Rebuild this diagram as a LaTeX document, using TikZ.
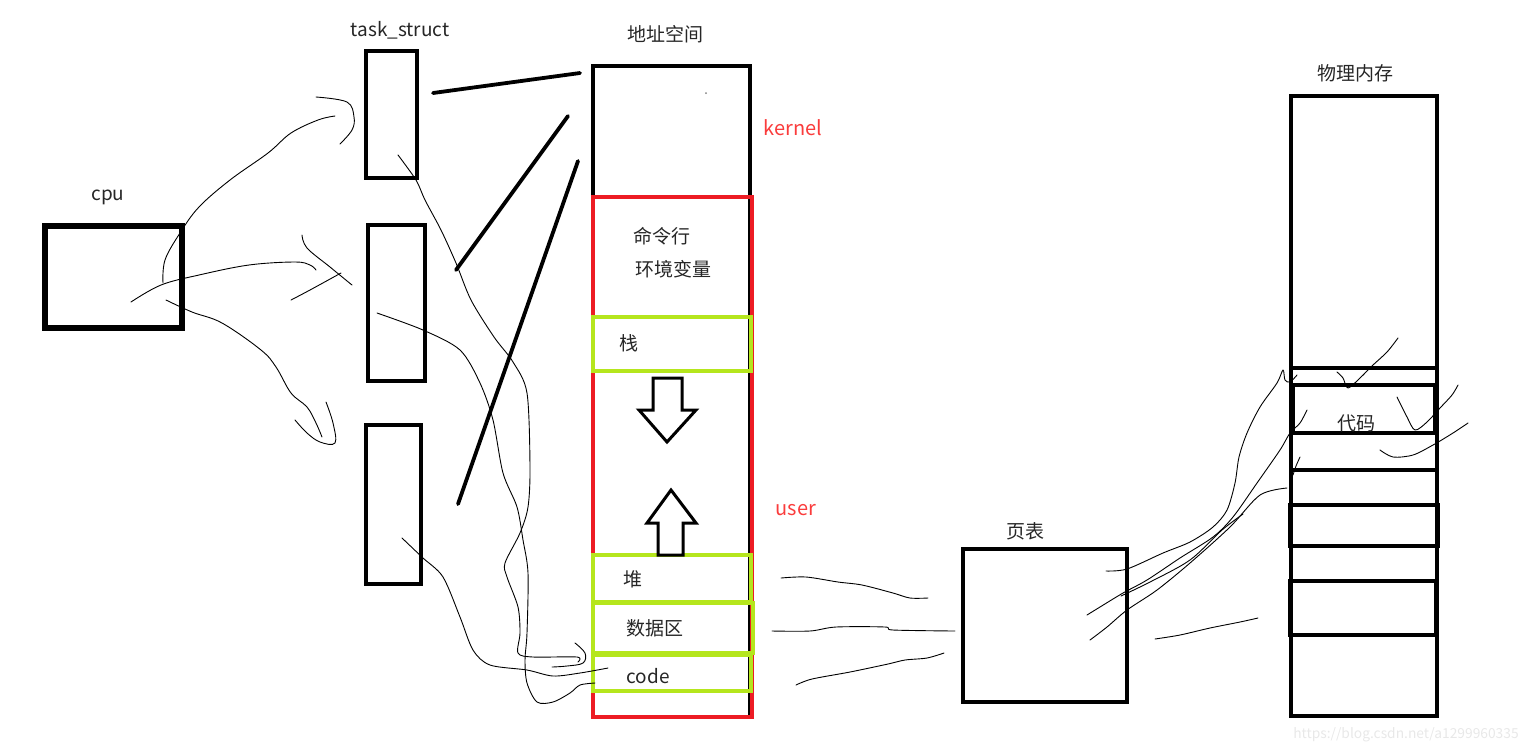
\documentclass[tikz,border=0pt]{standalone}
\usepackage{fontspec}
\setmainfont{Noto Sans CJK SC}
\usetikzlibrary{fit}
\definecolor{pred}{RGB}{237,28,36}
\definecolor{plime}{RGB}{181,230,29}
\definecolor{ptext}{RGB}{250,60,60}
\definecolor{wm}{RGB}{232,232,232}
\begin{document}
\begin{tikzpicture}[x=0.5pt,y=-0.5pt,
  box/.style={draw, line width=1.8pt, inner sep=0pt},
  redbox/.style={draw=pred, line width=1.6pt, inner sep=0pt},
  greenbox/.style={draw=plime, line width=1.9pt, inner sep=0pt},
  lbl/.style={font=\fontsize{9.5}{11}\selectfont, inner sep=0pt, text=black!85},
  redlbl/.style={font=\fontsize{10}{12}\selectfont, inner sep=0pt, text=ptext},
  stroke/.style={line width=0.45pt, line cap=round, line join=round},
  bar/.style={line width=1.9pt, line cap=round},
  blockarrow/.style={draw, line width=1.5pt, line join=miter, fill=white}]
\useasboundingbox (0,0) rectangle (1536,752);

% ---------- boxes ----------
\node[box, line width=2.8pt, fit={(45,226) (182,328)}] (cpu) {};
\node[box, fit={(366,51) (417,178)}] (t1) {};
\node[box, fit={(368,225) (425,381)}] (t2) {};
\node[box, fit={(366,425) (421,584)}] (t3) {};
\node[box, line width=1.6pt, fit={(593,66) (750,717)}] (as) {};
\node[redbox, fit={(593,197) (752,717)}] (user) {};
\node[greenbox, fit={(593,317) (751,371)}] (stack) {};
\node[greenbox, fit={(593,555) (751,602)}] (heap) {};
\node[greenbox, fit={(593,603) (753,653)}] (data) {};
\node[greenbox, fit={(593,655) (751,691)}] (code) {};
\node[box, fit={(963,549) (1127,702)}] (pt) {};
\node[box, fit={(1291,96) (1437,716)}] (pm) {};
\node[box, fit={(1293,385) (1435,433)}] (pm1) {};
\node[box, line width=2.2pt, fit={(1290,505) (1438,546)}] (pm2) {};
\node[box, fit={(1290,581) (1436,635)}] (pm3) {};
\coordinate (pmA) at (1291,368); \coordinate (pmB) at (1437,368);
\coordinate (pmC) at (1291,470); \coordinate (pmD) at (1437,470);
\draw[line width=1.8pt] (pmA) -- (pmB);
\draw[line width=1.8pt] (pmC) -- (pmD);

% ---------- labels ----------
\node[lbl] (lcpu) at (108,197) {cpu};
\node[lbl] (lts) at (400,30) {task\_struct};
\node[lbl] (las) at (665,34) {地址空间};
\node[redlbl] (lk) at (793,128) {kernel};
\node[redlbl] (lu) at (796,510) {user};
\node[lbl] (cmd) at (662,236) {命令行};
\node[lbl] (env) at (673,269) {环境变量};
\node[lbl] (lstack) at (629,343) {栈};
\node[lbl] (lheap) at (633,579) {堆};
\node[lbl] (ldata) at (655,628) {数据区};
\node[lbl] (lcode) at (648,676) {code};
\node[lbl] (lpt) at (1025,531) {页表};
\node[lbl] (lpm) at (1355,73) {物理内存};
\node[lbl] (lcodepm) at (1356,423) {代码};
\node[inner sep=0pt, font=\fontsize{6.9}{8}\selectfont, text=wm] (wmark) at (1406,735) {https://blog.csdn.net/a1299960335};
\fill[black!50] (706,93) circle (1);

% ---------- block arrows ----------
\draw[blockarrow] (653,378) -- (682,378) -- (682,410) -- (696,410) -- (667,442) -- (639,410) -- (653,410) -- cycle;
\draw[blockarrow] (671,490) -- (696,523) -- (683,523) -- (683,555) -- (658,555) -- (658,523) -- (647,523) -- cycle;

% ---------- thick lines task_struct -> address space ----------
\coordinate (b1s) at (433,93); \coordinate (b1e) at (580,73);
\coordinate (b2s) at (456,270); \coordinate (b2e) at (568,116);
\coordinate (b3s) at (458,504); \coordinate (b3e) at (578,161);
\draw[bar] (b1s) -- (b1e);
\draw[bar] (b2s) -- (b2e);
\draw[bar] (b3s) -- (b3e);

% ---------- hand-drawn strokes ----------
% cpu -> task 1
\draw[stroke] plot[smooth, tension=0.6] coordinates {(163,283) (165,260) (180,233) (199,207) (230,180) (268,153) (291,133) (318,120) (335,116)};
\draw[stroke] plot[smooth, tension=0.6] coordinates {(316,97) (347,102) (354,117) (352,130) (340,144)};
% cpu -> task 2
\draw[stroke] plot[smooth, tension=0.6] coordinates {(131,302) (161,285) (199,275) (249,265) (295,262) (310,265) (316,270)};
\draw[stroke] plot[smooth, tension=0.6] coordinates {(302,235) (307,248) (330,267) (352,285)};
\draw[stroke] plot[smooth, tension=0.6] coordinates {(291,300) (310,290) (341,273)};
% cpu -> task 3
\draw[stroke] plot[smooth, tension=0.6] coordinates {(166,300) (192,312) (222,323) (261,350) (276,367) (291,393) (307,407) (316,423) (322,437)};
\draw[stroke] plot[smooth, tension=0.6] coordinates {(295,420) (307,433) (320,442) (335,443) (333,423) (326,402)};
% task 1 -> code
\draw[stroke] plot[smooth, tension=0.5] coordinates {(398,155) (416,180) (425,200) (441,230) (456,263) (471,300) (494,337) (513,362) (527,393) (530,467) (528,507) (520,533) (505,563) (507,577) (518,607) (520,633) (518,653) (533,657) (577,657) (578,662)};
\draw[stroke] plot[smooth, tension=0.6] coordinates {(575,643) (585,653) (583,663) (567,666) (552,667)};
% task 2 -> code
\draw[stroke] plot[smooth, tension=0.5] coordinates {(377,313) (423,330) (460,350) (480,383) (493,420) (503,473) (517,507) (523,540) (528,573) (527,633) (525,660) (527,683) (537,702) (553,702) (570,693) (580,685) (595,683)};
% task 3 -> code
\draw[stroke] plot[smooth, tension=0.5] coordinates {(402,538) (423,558) (443,577) (460,617) (473,650) (490,665) (527,670) (553,676) (580,673) (608,668)};
% address space -> page table
\draw[stroke] plot[smooth, tension=0.5] coordinates {(781,578) (806,577) (838,582) (862,585) (893,593) (910,598) (928,598)};
\draw[stroke] plot[smooth, tension=0.5] coordinates {(772,631) (810,631) (836,627) (885,627) (893,630) (955,631)};
\draw[stroke] plot[smooth, tension=0.5] coordinates {(796,685) (812,679) (850,672) (888,664) (905,660) (927,658) (944,653)};
% page table -> physical memory
\draw[stroke] plot[smooth, tension=0.5] coordinates {(1106,571) (1127,569) (1163,553) (1190,542) (1213,527) (1227,510) (1235,483) (1239,457) (1247,433) (1260,407) (1277,383) (1283,370) (1285,380) (1290,382) (1297,375)};
\draw[stroke] plot[smooth, tension=0.5] coordinates {(1087,615) (1100,607) (1123,593) (1147,580) (1180,558) (1213,537) (1233,517) (1257,483) (1280,450) (1290,433) (1300,423) (1307,410)};
\draw[stroke] plot[smooth, tension=0.5] coordinates {(1121,596) (1150,582) (1190,560) (1222,530) (1243,514)};
\draw[stroke] plot[smooth, tension=0.5] coordinates {(1090,640) (1107,627) (1127,610) (1157,590) (1190,563) (1230,527) (1260,495) (1287,488)};
\draw[stroke] plot[smooth, tension=0.5] coordinates {(1293,475) (1296,466) (1300,457)};
\draw[stroke] plot[smooth, tension=0.5] coordinates {(1155,639) (1180,635) (1210,628) (1240,622) (1258,618)};
% strokes on the right of physical memory
\draw[stroke] plot[smooth, tension=0.5] coordinates {(1337,372) (1343,378) (1348,388) (1360,378) (1373,365) (1387,352) (1398,338)};
\draw[stroke] plot[smooth, tension=0.5] coordinates {(1397,397) (1407,417) (1415,430) (1427,422) (1440,408) (1452,395) (1458,385)};
\draw[stroke] plot[smooth, tension=0.5] coordinates {(1380,450) (1393,457) (1413,455) (1433,445) (1453,433) (1468,423)};
\end{tikzpicture}
\end{document}
